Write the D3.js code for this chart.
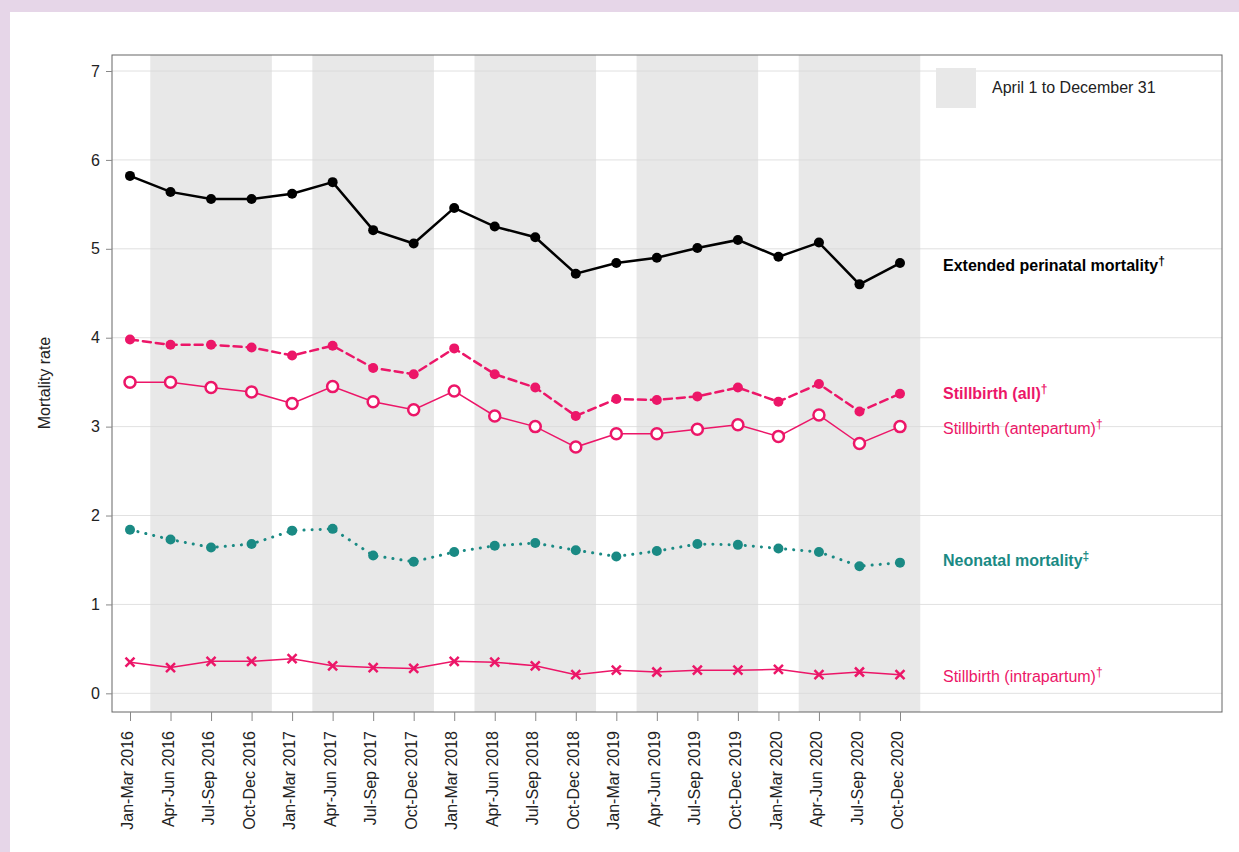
<!DOCTYPE html>
<html><head><meta charset="utf-8">
<script src="https://cdn.jsdelivr.net/npm/d3@7"></script>
<style>body{margin:0;background:#e6d6e8}svg text{font-family:"Liberation Sans",Arial,sans-serif}</style>
</head><body><svg id="c" width="1239" height="852"></svg>
<script>
var quarters=["Jan-Mar","Apr-Jun","Jul-Sep","Oct-Dec"];
var years=[2016,2017,2018,2019,2020];
var categories=[];
years.forEach(function(y){quarters.forEach(function(q){categories.push(q+" "+y);});});
var extended=[5.82,5.64,5.56,5.56,5.62,5.75,5.21,5.06,5.46,5.25,5.13,4.72,4.84,4.90,5.01,5.10,4.91,5.07,4.60,4.84];
var stillAll=[3.98,3.92,3.92,3.89,3.80,3.91,3.66,3.59,3.88,3.59,3.44,3.12,3.31,3.30,3.34,3.44,3.28,3.48,3.17,3.37];
var antepartum=[3.50,3.50,3.44,3.39,3.26,3.45,3.28,3.19,3.40,3.12,3.00,2.77,2.92,2.92,2.97,3.02,2.89,3.13,2.81,3.00];
var neonatal=[1.84,1.73,1.64,1.68,1.83,1.85,1.55,1.48,1.59,1.66,1.69,1.61,1.54,1.60,1.68,1.67,1.63,1.59,1.43,1.47];
var intrapartum=[0.35,0.29,0.36,0.36,0.39,0.31,0.29,0.28,0.36,0.35,0.31,0.21,0.26,0.24,0.26,0.26,0.27,0.21,0.24,0.21];
var yTicks=[0,1,2,3,4,5,6,7];

var svg=d3.select("#c");
svg.append("rect").attr("x",10).attr("y",12).attr("width",1229).attr("height",840).attr("fill","#fff");
var L=112,R=1222,T=55,B=712;
var x=d3.scalePoint().domain(categories).range([130,900]);
var step=x.step();
var y=d3.scaleLinear().domain([-0.21,7.18]).range([B,T]);
var pink="#ec1668",teal="#1a8a84";

// shaded bands Apr-Dec
years.forEach(function(yr){
  var a=x("Apr-Jun "+yr)-step/2, b=x("Oct-Dec "+yr)+step/2;
  svg.append("rect").attr("x",a).attr("y",T).attr("width",b-a).attr("height",B-T).attr("fill","#e8e8e8");
});
// gridlines
svg.append("g").selectAll("line").data(yTicks).join("line")
  .attr("x1",L).attr("x2",R).attr("y1",d=>y(d)).attr("y2",d=>y(d))
  .attr("stroke","#d8d8d8").attr("stroke-width",0.8);
svg.append("rect").attr("x",L).attr("y",T).attr("width",R-L).attr("height",B-T).attr("fill","none").attr("stroke","#666").attr("stroke-width",1);

var ya=svg.append("g").attr("transform","translate("+L+",0)").call(d3.axisLeft(y).tickValues(yTicks).tickSize(6).tickPadding(6));
ya.select(".domain").remove();
ya.selectAll("line").attr("stroke","#888");
ya.selectAll("text").attr("font-size",16).attr("fill","#222").attr("font-family",null);
var xa=svg.append("g").attr("transform","translate(0,"+B+")").call(d3.axisBottom(x).tickSize(9));
xa.select(".domain").remove();
xa.selectAll("line").attr("stroke","#888");
xa.selectAll("text").attr("font-size",16).attr("fill","#222").attr("font-family",null)
  .attr("transform","rotate(-90)").attr("text-anchor","end").attr("dx","-19").attr("dy","-0.1em").attr("y",0).attr("x",0).style("dominant-baseline","middle");
svg.selectAll("g").attr("font-family",null);
svg.append("text").attr("transform","translate(50,383) rotate(-90)").attr("text-anchor","middle")
  .attr("font-size",16).attr("fill","#222").text("Mortality rate");

var line=d3.line().x((d,i)=>x(categories[i])).y(d=>y(d));
function series(data,color,width,dash){
  svg.append("path").datum(data).attr("d",line).attr("fill","none").attr("stroke",color)
    .attr("stroke-width",width).attr("stroke-dasharray",dash||null).attr("stroke-linecap","round");
}
series(extended,"#000",2.5);
svg.selectAll(".pe").data(extended).join("circle").attr("cx",(d,i)=>x(categories[i])).attr("cy",d=>y(d)).attr("r",5).attr("fill","#000");
series(stillAll,pink,2.5,"8,5");
svg.selectAll(".ps").data(stillAll).join("circle").attr("cx",(d,i)=>x(categories[i])).attr("cy",d=>y(d)).attr("r",5).attr("fill",pink);
series(antepartum,pink,1.5);
svg.selectAll(".pa").data(antepartum).join("circle").attr("cx",(d,i)=>x(categories[i])).attr("cy",d=>y(d)).attr("r",5.5).attr("fill","#fff").attr("stroke",pink).attr("stroke-width",2.5);
series(neonatal,teal,3,"0.1,8");
svg.selectAll(".pn").data(neonatal).join("circle").attr("cx",(d,i)=>x(categories[i])).attr("cy",d=>y(d)).attr("r",5).attr("fill",teal);
series(intrapartum,pink,1.5);
svg.selectAll(".pi").data(intrapartum).join("path").attr("transform",(d,i)=>"translate("+x(categories[i])+","+y(d)+")")
  .attr("d","M-4.5,-4.5L4.5,4.5M-4.5,4.5L4.5,-4.5").attr("stroke",pink).attr("stroke-width",2.5);

// legend
svg.append("rect").attr("x",936).attr("y",68).attr("width",40).attr("height",40).attr("fill","#e8e8e8");
svg.append("text").attr("x",992).attr("y",93).attr("font-size",16).attr("fill","#222").text("April 1 to December 31");

function label(yy,txt,sup,color,bold){
  var t=svg.append("text").attr("x",943).attr("y",yy).attr("font-size",16).attr("fill",color).attr("font-weight",bold?"bold":"normal");
  t.append("tspan").text(txt);
  t.append("tspan").attr("dy",-6).attr("font-size",12).text(sup);
}
label(271,"Extended perinatal mortality","†","#000",true);
label(399,"Stillbirth (all)","†",pink,true);
label(434,"Stillbirth (antepartum)","†",pink,false);
label(566,"Neonatal mortality","‡",teal,true);
label(682,"Stillbirth (intrapartum)","†",pink,false);
</script></body></html>
